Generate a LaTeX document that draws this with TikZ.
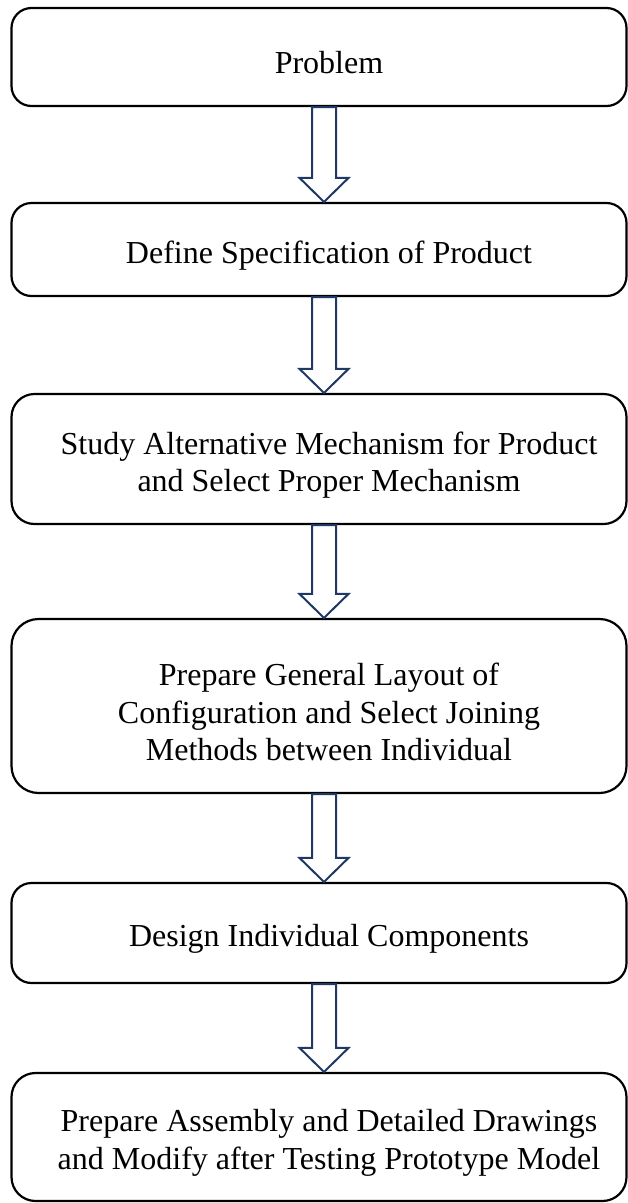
\documentclass[tikz,border=0pt]{standalone}
\usepackage{fontspec}
\setmainfont{Liberation Serif}
\usepackage{xcolor}
\usetikzlibrary{calc}

\definecolor{arrownavy}{RGB}{31,56,100}

% hollow block arrow from the bottom of one box to the top of the next
\newcommand{\hollowarrow}[2]{%
    \draw[arrowline] let \p1=(#1.south), \p2=(#2.north) in
        (\x1-7pt,\y1) -- (\x1+17pt,\y1) -- (\x1+17pt,\y2+24pt) -- (\x1+29.5pt,\y2+24pt)
        -- (\x1+5pt,\y2) -- (\x1-19.5pt,\y2+24pt) -- (\x1-7pt,\y2+24pt) -- cycle;}

\begin{document}
\begin{tikzpicture}[x=1pt, y=-1pt,
        stage/.style={draw, line width=2.2pt, rectangle, minimum width=615pt, inner sep=0pt},
        stagetext/.style={align=center, font=\fontsize{32}{37.5}\selectfont, xshift=10pt, yshift=-6pt},
        arrowline/.style={draw=arrownavy, line width=2pt, fill=white, line join=miter}]
    \useasboundingbox (0,0) rectangle (628,1203);

    \node[stage, rounded corners=20pt, minimum height=98pt,
        label={[stagetext]center:Problem}] (prob) at (319,57) {};
    \node[stage, rounded corners=20pt, minimum height=93pt,
        label={[stagetext]center:Define Specification of Product}] (spec) at (319,249.5) {};
    \node[stage, rounded corners=23pt, minimum height=130pt,
        label={[stagetext]center:{Study Alternative Mechanism for Product\\and Select Proper Mechanism}}] (mech) at (319,459) {};
    \node[stage, rounded corners=27pt, minimum height=174pt,
        label={[stagetext]center:{Prepare General Layout of\\Configuration and Select Joining\\Methods between Individual}}] (layout) at (319,706) {};
    \node[stage, rounded corners=20pt, minimum height=100pt,
        label={[stagetext]center:Design Individual Components}] (comp) at (319,933) {};
    \node[stage, rounded corners=24pt, minimum height=128pt,
        label={[stagetext]center:{Prepare Assembly and Detailed Drawings\\and Modify after Testing Prototype Model}}] (asm) at (319,1137) {};

    \hollowarrow{prob}{spec}
    \hollowarrow{spec}{mech}
    \hollowarrow{mech}{layout}
    \hollowarrow{layout}{comp}
    \hollowarrow{comp}{asm}
\end{tikzpicture}
\end{document}
